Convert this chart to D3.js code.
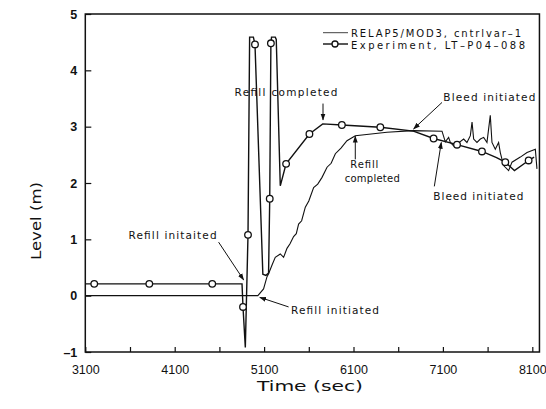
<!DOCTYPE html>
<html>
<head>
<meta charset="utf-8">
<script src="https://cdn.jsdelivr.net/npm/d3@7"></script>
<style>
  body { margin: 0; background: #fff; }
  text { font-family: "DejaVu Sans", "Liberation Sans", sans-serif; fill: #111; }
  .tick text { font-family: "Liberation Sans", Arial, sans-serif; }
</style>
</head>
<body>
<div id="chart"></div>
<script>
// RELAP5/MOD3 calculated level (thin line)
const relapTime  = [3100, 5030, 5094, 5131, 5150, 5190, 5225, 5281, 5318, 5356, 5390, 5430, 5460, 5486, 5520, 5561, 5600, 5654, 5700, 5748, 5804, 5850, 5897, 5960, 6027, 6120, 6475, 6769, 7090,
                    7127, 7164, 7183, 7220, 7258, 7332, 7369, 7407, 7426, 7444, 7481, 7519, 7556, 7593, 7630, 7649, 7686, 7723, 7742, 7779, 7835, 7873, 7966, 8041, 8134, 8152]
const relapLevel = [0.0, 0.0, 0.12, 0.33, 0.39, 0.55, 0.68, 0.74, 0.68, 0.84, 0.92, 1.05, 1.10, 1.27, 1.33, 1.57, 1.68, 1.92, 1.98, 2.10, 2.28, 2.35, 2.52, 2.62, 2.75, 2.84, 2.90, 2.93, 2.92,
                    2.73, 2.81, 2.72, 2.66, 2.69, 2.78, 2.72, 2.84, 3.08, 2.78, 2.72, 2.78, 2.81, 2.72, 3.20, 2.72, 2.60, 2.72, 2.54, 2.31, 2.22, 2.37, 2.46, 2.54, 2.60, 2.25]

// Experiment LT-P04-088 (line with circles)
const expTime  = [3100, 4853, 4864, 4890, 4920, 4938, 4980, 4998, 5086, 5120, 5150, 5163, 5176, 5183, 5225, 5236, 5281, 5346, 5607, 5756, 5970, 6400, 6770, 6996, 7258, 7537, 7700, 7798, 7900, 8059, 8120]
const expLevel = [0.21, 0.21, -0.20, -0.92, 1.08, 4.59, 4.59, 4.46, 0.38, 0.36, 0.40, 1.72, 4.48, 4.59, 4.59, 4.55, 1.95, 2.34, 2.87, 3.05, 3.03, 2.99, 2.92, 2.79, 2.68, 2.56, 2.45, 2.37, 2.22, 2.40, 2.46]

// experiment symbols
const markTime  = [3200, 3816, 4520, 4864, 4920, 4998, 5163, 5176, 5346, 5607, 5970, 6400, 6996, 7258, 7537, 7798, 8059]
const markLevel = [0.21, 0.21, 0.21, -0.20, 1.08, 4.46, 1.72, 4.48, 2.34, 2.87, 3.03, 2.99, 2.79, 2.68, 2.56, 2.37, 2.40]

const xMajor = [3100, 4100, 5100, 6100, 7100, 8100]
const xMinor = [3600, 4600, 5600, 6600, 7600]
const yTicks = [-1, 0, 1, 2, 3, 4, 5]

// annotations: text anchored in data units, arrow from tail to tip
const notes = [
  { text: "Refill  completed", t: 4769, v: 3.55, len: 103, from: [5759, 3.41], to: [5759, 3.12] },
  { text: "Bleed  initiated",  t: 7105, v: 3.46, len: 92,  from: [7090, 3.43], to: [6772, 2.96] },
  { text: "Refill",            t: 6221, v: 2.26, len: 28,  from: [6120, 2.42], to: [6120, 2.83], mid: true, fs: 10 },
  { text: "completed",         t: 6310, v: 2.02, len: 55,  mid: true, fs: 10 },
  { text: "Bleed  initiated",  t: 6993, v: 1.69, len: 90,  from: [7004, 1.94], to: [7082, 2.72] },
  { text: "Refill  initaited", t: 3584, v: 1.01, len: 88,  from: [4591, 0.95], to: [4871, 0.28] },
  { text: "Refill  initiated", t: 5401, v: -0.32, len: 88, from: [5374, -0.20], to: [5052, -0.03] }
]

const W = 546, H = 409
const svg = d3.select("#chart").append("svg").attr("width", W).attr("height", H)

const x = d3.scaleLinear().domain([3100, 8100]).range([85.3, 532.3])
const y = d3.scaleLinear().domain([-1, 5]).range([352, 14])
const xEnd = 8180

svg.append("defs").append("marker")
  .attr("id", "ah").attr("viewBox", "0 0 10 10").attr("refX", 9).attr("refY", 5)
  .attr("markerWidth", 7).attr("markerHeight", 7).attr("orient", "auto")
  .append("path").attr("d", "M0,1.5 L10,5 L0,8.5 Z").attr("fill", "#111")

// frame
svg.append("rect")
  .attr("x", x(3100)).attr("y", y(5))
  .attr("width", x(xEnd) - x(3100)).attr("height", y(-1) - y(5))
  .attr("fill", "none").attr("stroke", "#111").attr("stroke-width", 1.5)

// x axis (ticks pointing in)
const xAx = svg.append("g").attr("transform", `translate(0,${y(-1)})`)
  .call(d3.axisBottom(x).tickValues(xMajor).tickSize(-5).tickPadding(13).tickFormat(d3.format("d")))
xAx.select(".domain").remove()
xAx.selectAll("text").attr("font-size", 12.5).attr("fill", "#111")
xAx.selectAll("line").attr("stroke", "#111").attr("stroke-width", 1.2)
svg.append("g").attr("transform", `translate(0,${y(-1)})`)
  .call(d3.axisBottom(x).tickValues(xMinor).tickSize(-5).tickFormat(""))
  .call(g => g.select(".domain").remove())
  .selectAll("line").attr("stroke", "#111").attr("stroke-width", 1.2)

// y axis
const yAx = svg.append("g").attr("transform", `translate(${x(3100)},0)`)
  .call(d3.axisLeft(y).tickValues(yTicks).tickSize(-6).tickPadding(8).tickFormat(d => d < 0 ? "\u2013" + Math.abs(d) : d))
yAx.select(".domain").remove()
yAx.selectAll("text").attr("font-size", 12.5).attr("fill", "#111").attr("font-weight", "bold")
yAx.selectAll("line").attr("stroke", "#111").attr("stroke-width", 1.2)

// axis titles
svg.append("text").attr("x", 310).attr("y", 391).attr("text-anchor", "middle")
  .attr("font-size", 14).attr("textLength", 106).attr("lengthAdjust", "spacingAndGlyphs").text("Time  (sec)")
svg.append("text").attr("transform", "translate(41,221) rotate(-90)").attr("text-anchor", "middle")
  .attr("font-size", 14).attr("textLength", 78).attr("lengthAdjust", "spacingAndGlyphs").text("Level  (m)")

// series
const line = d3.line().x(d => x(d[0])).y(d => y(d[1]))
svg.append("path").datum(d3.zip(relapTime, relapLevel))
  .attr("d", line).attr("fill", "none").attr("stroke", "#111").attr("stroke-width", 1.1)
svg.append("path").datum(d3.zip(expTime, expLevel))
  .attr("d", line).attr("fill", "none").attr("stroke", "#111").attr("stroke-width", 1.4)
svg.append("g").selectAll("circle").data(d3.zip(markTime, markLevel)).join("circle")
  .attr("cx", d => x(d[0])).attr("cy", d => y(d[1])).attr("r", 3.3)
  .attr("fill", "#fff").attr("stroke", "#111").attr("stroke-width", 1.3)

// annotations
notes.forEach(n => {
  svg.append("text").attr("x", x(n.t)).attr("y", y(n.v))
    .attr("text-anchor", n.mid ? "middle" : "start")
    .attr("font-size", n.fs || 10.5).attr("textLength", n.len).text(n.text)
  if (n.from) {
    svg.append("line")
      .attr("x1", x(n.from[0])).attr("y1", y(n.from[1]))
      .attr("x2", x(n.to[0])).attr("y2", y(n.to[1]))
      .attr("stroke", "#111").attr("stroke-width", 1).attr("marker-end", "url(#ah)")
  }
})

// legend
const lg = svg.append("g")
lg.append("line").attr("x1", 323).attr("x2", 348).attr("y1", 32.7).attr("y2", 32.7).attr("stroke", "#111").attr("stroke-width", 0.8)
lg.append("text").attr("x", 351).attr("y", 36.5).attr("font-size", 10).attr("textLength", 170).text("RELAP5/MOD3,  cntrlvar\u20131")
lg.append("line").attr("x1", 323).attr("x2", 348).attr("y1", 44).attr("y2", 44).attr("stroke", "#111").attr("stroke-width", 1.4)
lg.append("circle").attr("cx", 335).attr("cy", 44).attr("r", 3).attr("fill", "#fff").attr("stroke", "#111").attr("stroke-width", 1.3)
lg.append("text").attr("x", 351).attr("y", 48.5).attr("font-size", 10).attr("textLength", 174).text("Experiment,  LT\u2013P04\u2013088")
</script>
</body>
</html>
